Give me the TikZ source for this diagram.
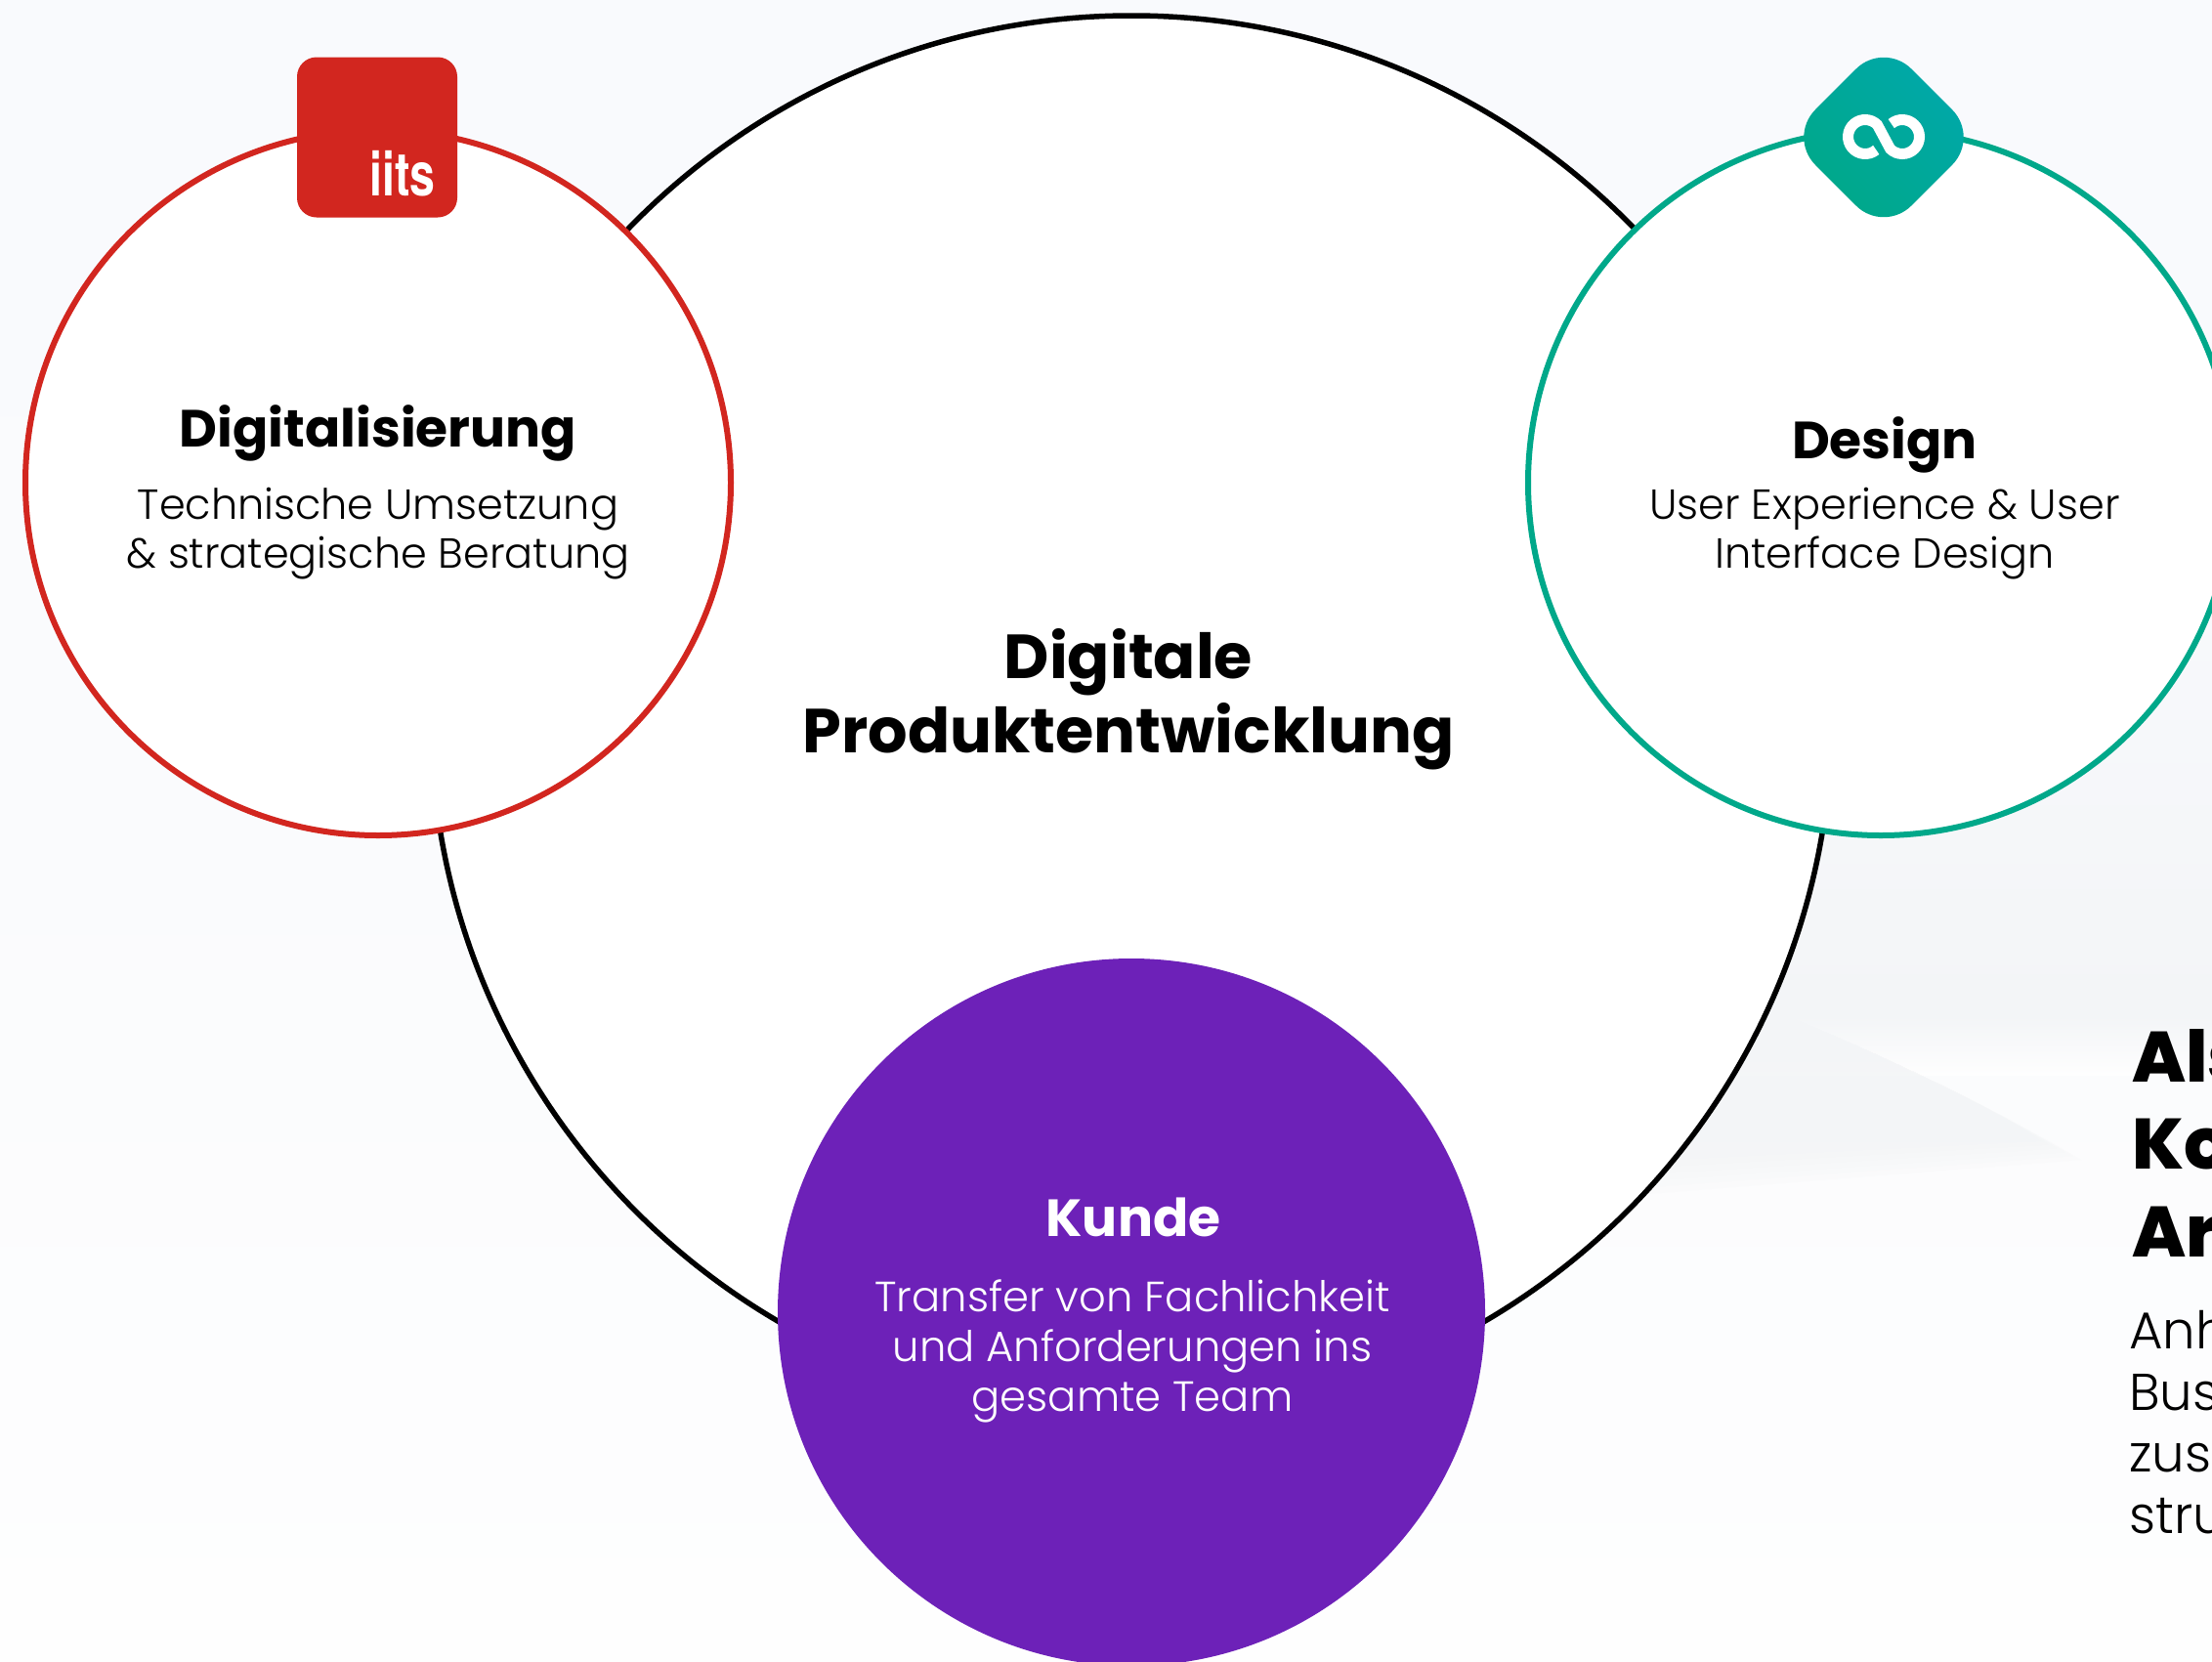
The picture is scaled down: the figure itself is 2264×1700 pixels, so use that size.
\documentclass[tikz,border=0pt]{standalone}
\usepackage{fontspec}
\setmainfont{Poppins}
\newfontfamily\xbold{Poppins ExtraBold}
\newfontfamily\lightf{Poppins Light}
\usetikzlibrary{calc}
\definecolor{iitsred}{HTML}{D2261F}
\definecolor{teal}{HTML}{00A88A}
\definecolor{tealtop}{HTML}{00A8A8}
\definecolor{purp}{HTML}{6D21B8}
\definecolor{bgtop}{HTML}{F9FAFD}
\definecolor{bgmid}{HTML}{FAFBFD}
\definecolor{bgbot}{HTML}{FEFEFE}
\definecolor{haze}{HTML}{F3F5F7}
\pgfdeclareverticalshading{diashade}{100bp}{color(0bp)=(teal); color(30bp)=(teal); color(70bp)=(tealtop); color(100bp)=(tealtop)}
\newcommand{\fs}[2]{\fontsize{#1}{#2}\selectfont}
\tikzset{
  ring/.style={circle,minimum size=722,inner sep=0,line width=6,fill=white},
  head/.style={font=\bfseries\fs{53.5}{60},text=black,align=center},
  body/.style={font=\lightf\fs{43}{50},text=black,align=center},
  leftcut/.style={anchor=base west,text=black,inner sep=0}
}
\begin{document}
\begin{tikzpicture}[x=1pt,y=-1pt]
\useasboundingbox (0,0) rectangle (2264,1700);
\clip (0,0) rectangle (2264,1700);
\shade[top color=bgtop,bottom color=bgbot,middle color=bgmid] (0,0) rectangle (2264,1700);
% soft haze behind the right-hand side
\shade[top color=bgtop,bottom color=haze] (1650,520) rectangle (2264,1040);
\shade[top color=haze,bottom color=bgbot] (1650,1040) rectangle (2264,1100);
\foreach \d in {0,7,14,21,28,35}{
  \fill[haze,opacity=.2] (1650,1040) -- (1822,1037) .. controls (1950,1090) and (2050,1140) .. (2130-1.2*\d,1187-.55*\d) -- (1650,1225-\d) -- cycle;
}
\node[circle,draw=black,fill=white,line width=5.5,minimum size=1434,inner sep=0] (main) at (1158,733) {};
\node[ring,draw=iitsred] (dig) at (387,494) {};
\node[ring,draw=teal] (des) at (1925,494) {};
\node[ring,minimum size=724,draw=none,fill=purp] (kun) at (1158,1343) {};
\node[rectangle,rounded corners=20,fill=iitsred,minimum size=164,inner sep=0] (logoA) at (386,140.5) {};
\node[text=white,font=\fontspec{TeX Gyre Heros}\bfseries\fs{62}{62},xscale=.75,inner sep=0,anchor=base] (iits) at (412,200) {iits};
\shade[shading=diashade,shading angle=315,rounded corners=40,rotate around={45:(1928,140.5)}] (1858.5,71) rectangle (1997.5,210);
\coordinate (infL) at (1909,140);
\coordinate (infR) at (1947,140);
\draw[white,line width=11] ($(infL)+(50:17.5)$) arc[start angle=50,end angle=315,radius=17.5] -- ($(infR)+(135:17.5)$) arc[start angle=135,end angle=-130,radius=17.5];
\node[head] (tdig) at (387,443.5) {Digitalisierung};
\node[body,anchor=north] (bdig) at (387,496) {Technische Umsetzung\\\& strategische Beratung};
\node[head] (tdes) at (1929,455) {Design};
\node[body,anchor=north] (bdes) at (1929,496) {User Experience \& User\\Interface Design};
\node[font=\bfseries\fs{63.7}{76},align=center] (tmain) at (1155,716) {Digitale\\Produktentwicklung};
\node[head,text=white] (tkun) at (1160,1246) {Kunde};
\node[body,text=white,anchor=north,font=\lightf\fs{43.3}{51}] (bkun) at (1159,1306) {Transfer von Fachlichkeit\\und Anforderungen ins\\gesamte Team};
\node[leftcut,font=\xbold\fs{73}{90}] (a1) at (2182,1107) {Als};
\node[leftcut,font=\xbold\fs{73}{90}] (a2) at (2182,1196) {Ko};
\node[leftcut,font=\xbold\fs{73}{90}] (a3) at (2182,1286) {Ar};
\node[leftcut,font=\lightf\fs{53}{63}] (b1) at (2179,1380) {Anh};
\node[leftcut,font=\lightf\fs{53}{63}] (b2) at (2179,1443) {Bus};
\node[leftcut,font=\lightf\fs{53}{63}] (b3) at (2179,1506) {zus};
\node[leftcut,font=\lightf\fs{53}{63}] (b4) at (2179,1569) {stru};
\end{tikzpicture}
\end{document}
